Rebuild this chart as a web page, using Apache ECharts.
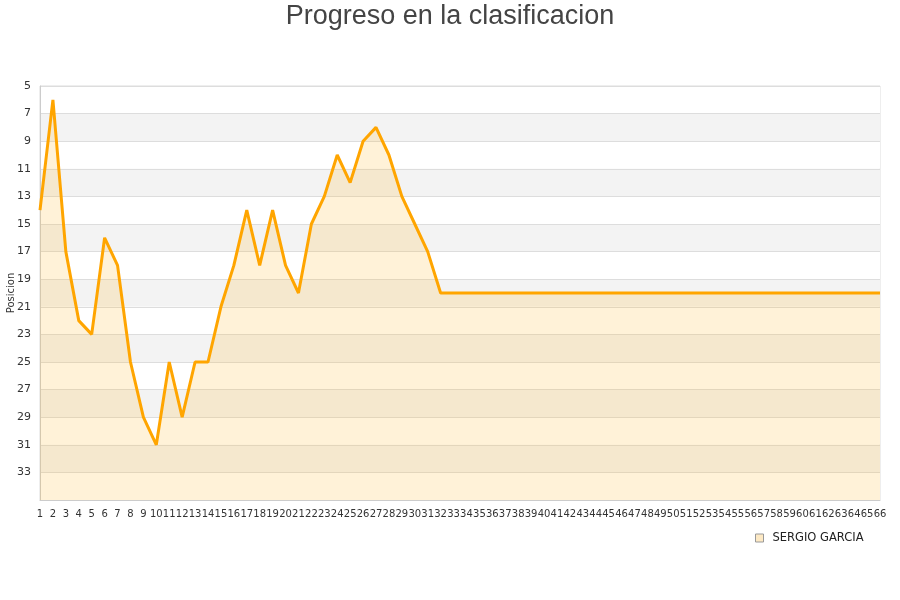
<!DOCTYPE html>
<html>
<head>
<meta charset="utf-8">
<script src="https://cdn.jsdelivr.net/npm/echarts@6/dist/echarts.min.js"></script>
<style>
  html, body { margin: 0; padding: 0; background: #fff; }
  #chart { width: 900px; height: 600px; }
</style>
</head>
<body>
<div id="chart"></div>
<script>
var jornadas = [];
for (var i = 1; i <= 66; i++) {
  jornadas.push(String(i));
}

// posicion por jornada
var posiciones = [
  14, 6, 17, 22, 23, 16, 18, 25, 29, 31,
  25, 29, 25, 25, 21, 18, 14, 18, 14, 18,
  20, 15, 13, 10, 12, 9, 8, 10, 13, 15,
  17, 20, 20, 20, 20, 20, 20, 20, 20, 20,
  20, 20, 20, 20, 20, 20, 20, 20, 20, 20,
  20, 20, 20, 20, 20, 20, 20, 20, 20, 20,
  20, 20, 20, 20, 20, 20
];

var jugador = 'SERGIO GARCIA';

var chart = echarts.init(document.getElementById('chart'));

chart.setOption({
  animation: false,
  title: {
    text: 'Progreso en la clasificacion',
    left: 'center',
    top: -2,
    textStyle: {
      fontFamily: 'Liberation Sans',
      fontSize: 27,
      fontWeight: 'normal',
      color: '#444'
    }
  },
  legend: {
    data: [{
      name: jugador,
      icon: 'rect',
      itemStyle: { color: '#fde9c4', borderColor: '#999', borderWidth: 1 }
    }],
    left: 750,
    top: 527,
    itemWidth: 8,
    itemHeight: 8,
    textStyle: { fontFamily: 'DejaVu Sans', fontSize: 11.5, color: '#222', padding: [0, 0, 0, 4] }
  },
  grid: {
    left: 40,
    right: 20,
    top: 86,
    bottom: 100,
    containLabel: false,
    outerBoundsMode: 'none',
    show: true,
    borderColor: '#ddd',
    borderWidth: 1
  },
  xAxis: {
    type: 'category',
    data: jornadas,
    boundaryGap: false,
    axisLine: { lineStyle: { color: '#ccc' } },
    axisTick: { show: false },
    axisLabel: {
      interval: 0,
      margin: 9,
      fontFamily: 'DejaVu Sans',
      fontSize: 10,
      color: '#333'
    },
    splitLine: { show: false }
  },
  yAxis: {
    type: 'value',
    inverse: true,
    min: 5,
    max: 35,
    interval: 2,
    name: 'Posicion',
    nameLocation: 'middle',
    nameGap: 24,
    nameMoveOverlap: false,
    nameTextStyle: { fontFamily: 'DejaVu Sans', fontSize: 10, color: '#333' },
    axisLine: { show: true, lineStyle: { color: '#ccc' } },
    axisTick: { show: false },
    axisLabel: {
      margin: 9,
      fontFamily: 'DejaVu Sans',
      fontSize: 11,
      color: '#333',
      formatter: function (v) { return v === 35 ? '' : v; }
    },
    splitLine: { lineStyle: { color: '#ddd' } },
    splitArea: { show: true, areaStyle: { color: ['#ffffff', '#f3f3f3'] } }
  },
  series: [{
    name: jugador,
    type: 'line',
    data: posiciones,
    showSymbol: false,
    lineStyle: { color: '#ffa500', width: 3 },
    itemStyle: { color: '#fde9c4' },
    areaStyle: { origin: 'end', color: 'rgba(255, 180, 35, 0.25)' }
  }]
});
</script>
</body>
</html>
